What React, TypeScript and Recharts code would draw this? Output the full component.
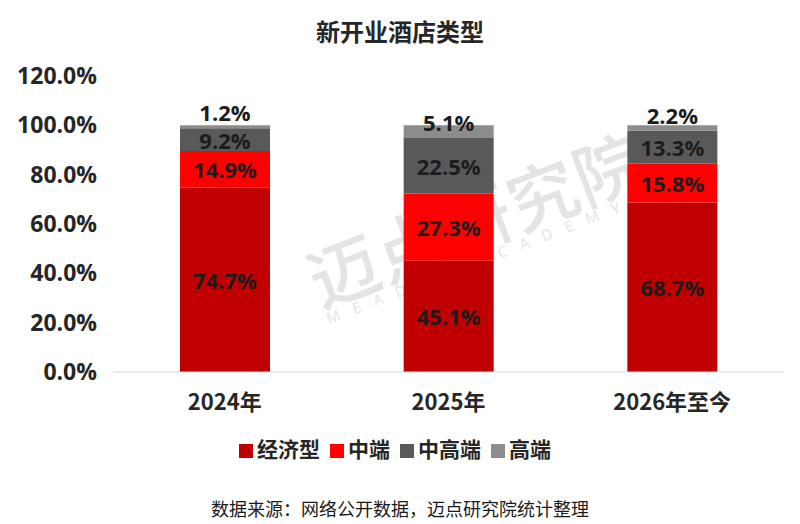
import { BarChart, Bar, XAxis, YAxis, Legend, LabelList } from "recharts"

const years = ["2024年", "2025年", "2026年至今"]
const economy = [74.7, 45.1, 68.7]
const midscale = [14.9, 27.3, 15.8]
const upscale = [9.2, 22.5, 13.3]
const luxury = [1.2, 5.1, 2.2]
const yTicks = [0, 20, 40, 60, 80, 100, 120]

const data = years.map((name, i) => ({
  name,
  economy: economy[i],
  midscale: midscale[i],
  upscale: upscale[i],
  luxury: luxury[i],
}))

const FONT = '"Open Sans", "Noto Sans CJK SC", sans-serif'
const CJK = '"Noto Sans CJK SC", "Open Sans", sans-serif'

const pctLabel = (top: boolean) => (props: any) => {
  const { x, y, width, height, value } = props
  const cy = top ? y + height - 16 : y + height / 2
  return (
    <text
      x={x + width / 2}
      y={cy}
      textAnchor="middle"
      dominantBaseline="central"
      fontFamily={FONT}
      fontWeight={700}
      fontSize={22}
      fill="#1c1c1c"
    >
      {value.toFixed(1)}%
    </text>
  )
}

const App = () => {
  return (
    <div style={{ position: "absolute", left: 0, top: 0, width: 800, height: 524, background: "#fff", overflow: "hidden" }}>
      {/* watermark */}
      <div
        style={{
          position: "absolute",
          left: 298,
          top: 166,
          transform: "rotate(-21deg)",
          fontFamily: CJK,
          fontWeight: 500,
          fontSize: 70,
          color: "#e4e4e4",
          whiteSpace: "nowrap",
          letterSpacing: 1,
        }}
      >
        迈点研究院
      </div>
      <div
        style={{
          position: "absolute",
          left: 316,
          top: 250,
          transform: "rotate(-21deg)",
          fontFamily: FONT,
          fontSize: 15,
          color: "#e4e4e4",
          whiteSpace: "nowrap",
          letterSpacing: 14,
        }}
      >
        MEADIN ACADEMY
      </div>

      <div
        style={{
          position: "absolute",
          top: 13,
          width: 800,
          textAlign: "center",
          fontFamily: CJK,
          fontWeight: 700,
          fontSize: 24,
          color: "#262626",
        }}
      >
        新开业酒店类型
      </div>

      <div style={{ position: "absolute", left: 0, top: 0 }}>
        <BarChart
          width={800}
          height={524}
          data={data}
          margin={{ top: 76, right: 16, left: 13, bottom: 82 }}
        >
          <XAxis
            dataKey="name"
            height={40}
            tickLine={false}
            tickSize={0}
            axisLine={{ stroke: "#d9d9d9" }}
            tickMargin={22}
            tick={{ fill: "#262626", fontSize: 22, fontWeight: 700, fontFamily: CJK }}
          />
          <YAxis
            width={100}
            domain={[0, 120]}
            ticks={yTicks}
            axisLine={false}
            tickLine={false}
            tickSize={0}
            tickMargin={16}
            tickFormatter={(v: number) => v.toFixed(1) + "%"}
            tick={{ fill: "#262626", fontSize: 23, fontWeight: 700, fontFamily: FONT }}
          />
          <Legend
            verticalAlign="bottom"
            iconType="square"
            iconSize={14}
            itemSorter={null as any}
            wrapperStyle={{ top: 433, left: 0, width: 800, fontFamily: CJK, fontSize: 21, fontWeight: 700 }}
            formatter={(v: string) => <span style={{ color: "#262626" }}>{v}</span>}
          />
          <Bar dataKey="economy" name="经济型" stackId="a" fill="#C00000" barSize={90} isAnimationActive={false}>
            <LabelList dataKey="economy" content={pctLabel(false)} />
          </Bar>
          <Bar dataKey="midscale" name="中端" stackId="a" fill="#FF0000" barSize={90} isAnimationActive={false}>
            <LabelList dataKey="midscale" content={pctLabel(false)} />
          </Bar>
          <Bar dataKey="upscale" name="中高端" stackId="a" fill="#595959" barSize={90} isAnimationActive={false}>
            <LabelList dataKey="upscale" content={pctLabel(false)} />
          </Bar>
          <Bar dataKey="luxury" name="高端" stackId="a" fill="#8C8C8C" barSize={90} isAnimationActive={false}>
            <LabelList dataKey="luxury" content={pctLabel(true)} />
          </Bar>
        </BarChart>
      </div>

      <div
        style={{
          position: "absolute",
          top: 495,
          width: 800,
          textAlign: "center",
          fontFamily: CJK,
          fontSize: 18,
          color: "#1a1a1a",
        }}
      >
        数据来源：网络公开数据，迈点研究院统计整理
      </div>
    </div>
  )
}

export default App
